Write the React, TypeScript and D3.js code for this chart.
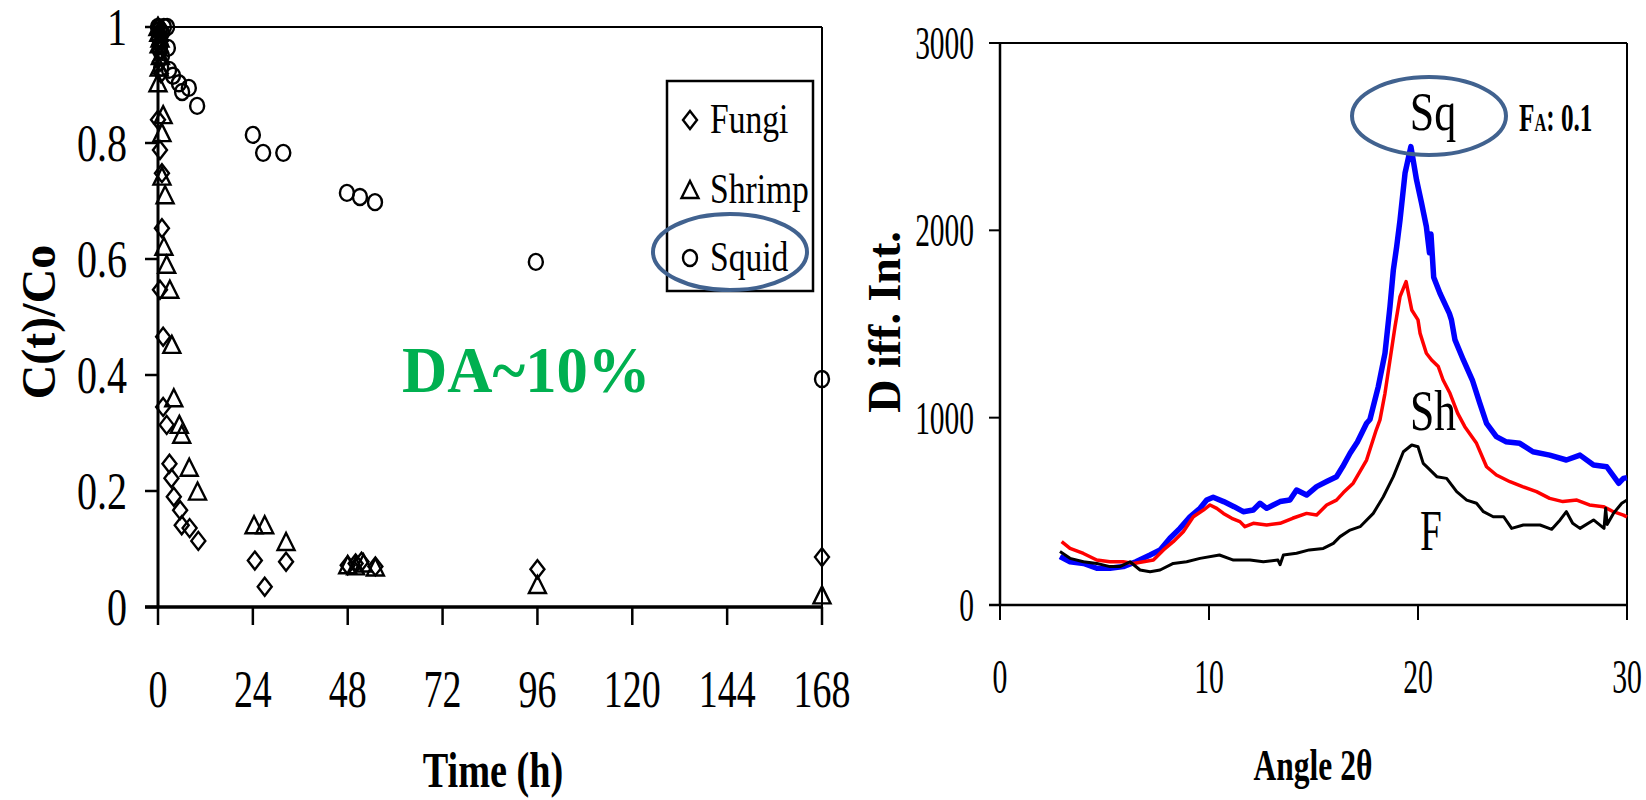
import * as d3 from "d3";

// ---- left panel: C(t)/Co vs time ----
const timeTicks = [0, 24, 48, 72, 96, 120, 144, 168];
const ratioTicks = [0, 0.2, 0.4, 0.6, 0.8, 1];

const fungiTime = [0, 0.2, 0.25, 0.4, 0.5, 0.5, 0.75, 0, 0.5, 1, 1, 0.5, 1.3, 1.3, 2.2, 2.9, 3.4, 4, 5.6, 6, 8, 10.2, 24.5, 27, 32.4, 48, 50, 51.5, 55, 96, 168];
const fungiRatio = [1.0, 0.99, 0.98, 0.97, 0.96, 0.94, 0.92, 0.84, 0.788, 0.748, 0.653, 0.547, 0.466, 0.345, 0.314, 0.247, 0.222, 0.19, 0.167, 0.141, 0.136, 0.114, 0.08, 0.035, 0.078, 0.072, 0.075, 0.078, 0.07, 0.065, 0.086];

const shrimpTime = [0, 0.2, 0.5, 0.3, 0.6, 0.3, 0, 1.3, 1, 1, 1.8, 1.5, 2.2, 3, 3.5, 4, 5.4, 6, 7.9, 10, 24.3, 27, 32.4, 48, 50, 52, 55, 96, 168];
const shrimpRatio = [1.0, 0.99, 0.98, 0.97, 0.95, 0.93, 0.903, 0.848, 0.817, 0.742, 0.71, 0.621, 0.59, 0.547, 0.452, 0.36, 0.314, 0.297, 0.24, 0.199, 0.141, 0.141, 0.112, 0.072, 0.07, 0.075, 0.068, 0.038, 0.02];

const squidTime = [0, 0.3, 0.5, 0.6, 1, 1.5, 2.3, 0.5, 1, 2.5, 0.8, 2.8, 3.8, 5.3, 6.1, 7.8, 9.9, 24, 26.6, 31.7, 47.8, 51.1, 54.9, 95.6, 168];
const squidRatio = [1.0, 0.98, 0.995, 0.97, 0.99, 1.0, 1.0, 0.96, 0.95, 0.964, 0.93, 0.926, 0.916, 0.903, 0.888, 0.895, 0.864, 0.814, 0.783, 0.783, 0.714, 0.707, 0.698, 0.595, 0.393];

const legendNames = ["Fungi", "Shrimp", "Squid"];

// ---- right panel: XRD patterns ----
const angleTicks = [0, 10, 20, 30];
const intensityTicks = [0, 1000, 2000, 3000];

const sqAngle = [2.87, 3.35, 4.0, 4.63, 5.26, 5.9, 6.5, 7.18, 7.66, 8.13, 8.61, 9.09, 9.57, 9.89, 10.2, 10.7, 11.2, 11.64, 12.12, 12.44, 12.76, 13.4, 13.87, 14.19, 14.67, 15.15, 15.63, 16.1, 16.4, 16.75, 17.1, 17.54, 17.7, 18.1, 18.42, 18.66, 18.82, 18.98, 19.14, 19.38, 19.66, 19.93, 20.17, 20.4, 20.55, 20.62, 20.75, 21.05, 21.5, 21.6, 21.77, 22.17, 22.6, 22.96, 23.28, 23.75, 24.2, 24.87, 25.5, 26.3, 27.1, 27.75, 28.4, 29.03, 29.6, 29.83, 30];
const sqIntensity = [258, 231, 222, 196, 196, 205, 231, 267, 294, 356, 409, 471, 516, 560, 575, 552, 525, 498, 507, 543, 516, 552, 560, 614, 587, 632, 659, 685, 739, 810, 870, 970, 990, 1166, 1344, 1593, 1788, 1913, 2055, 2305, 2447, 2269, 2145, 2020, 1880, 1980, 1750, 1664, 1557, 1522, 1415, 1308, 1201, 1076, 970, 899, 872, 863, 818, 800, 774, 800, 747, 738, 650, 676, 680];

const shAngle = [2.95, 3.35, 3.99, 4.63, 5.26, 5.9, 6.38, 6.86, 7.34, 7.82, 8.29, 8.77, 9.25, 9.73, 10.05, 10.37, 10.69, 11.09, 11.48, 11.72, 12.12, 12.76, 13.4, 14.0, 14.67, 15.15, 15.63, 16.1, 16.43, 16.9, 17.54, 18.0, 18.18, 18.42, 18.66, 18.9, 19.14, 19.43, 19.7, 20.0, 20.1, 20.4, 20.65, 20.97, 21.2, 21.53, 21.9, 22.24, 22.8, 23.28, 23.75, 24.4, 25.0, 25.67, 26.3, 26.93, 27.6, 28.2, 28.87, 29.35, 29.83, 30];
const shIntensity = [338, 302, 275, 240, 231, 231, 222, 231, 240, 294, 338, 391, 471, 507, 534, 516, 489, 463, 445, 418, 436, 427, 436, 463, 489, 480, 534, 560, 600, 650, 774, 934, 988, 1130, 1308, 1486, 1646, 1726, 1575, 1522, 1450, 1344, 1308, 1273, 1201, 1130, 1023, 952, 863, 738, 694, 658, 632, 605, 569, 552, 560, 534, 525, 498, 480, 470];

const fAngle = [2.87, 3.35, 3.99, 4.63, 5.26, 5.74, 6.22, 6.7, 7.18, 7.66, 8.29, 8.93, 9.57, 10.5, 11.17, 11.96, 12.6, 13.3, 13.4, 13.56, 14.19, 14.8, 15.47, 15.95, 16.27, 16.75, 17.23, 17.86, 18.34, 18.82, 19.3, 19.7, 20.0, 20.25, 20.5, 20.9, 21.37, 21.85, 22.33, 22.8, 23.13, 23.6, 24.1, 24.48, 25.04, 25.84, 26.4, 26.8, 27.1, 27.4, 27.75, 28.4, 28.9, 28.98, 29.05, 29.35, 29.75, 30];
const fIntensity = [285, 249, 231, 222, 205, 205, 231, 187, 178, 187, 222, 231, 249, 267, 240, 240, 231, 240, 215, 267, 276, 294, 302, 329, 365, 400, 418, 489, 578, 685, 818, 854, 845, 756, 729, 685, 676, 605, 560, 543, 498, 471, 471, 409, 427, 427, 404, 454, 498, 436, 409, 454, 409, 516, 430, 489, 543, 560];

const FONT = '"Liberation Serif", "Times New Roman", serif';

type CTextProps = {
  x: number; y: number; size: number; sx?: number; anchor?: string;
  bold?: boolean; fill?: string; children: any;
};

// condensed text: the original lettering is narrow and tall
const CText = ({ x, y, size, sx = 1, anchor = "start", bold = false, fill = "#000", children }: CTextProps) => (
  <text
    transform={`translate(${x},${y}) scale(${sx},1)`}
    textAnchor={anchor}
    fontSize={size}
    fontWeight={bold ? "bold" : "normal"}
    fontFamily={FONT}
    fill={fill}
  >
    {children}
  </text>
);

const diamond = (cx: number, cy: number) => `M${cx},${cy - 9}L${cx + 7},${cy}L${cx},${cy + 9}L${cx - 7},${cy}Z`;
const triangle = (cx: number, cy: number) => `M${cx},${cy - 9}L${cx + 8.5},${cy + 8}L${cx - 8.5},${cy + 8}Z`;

const Marker = ({ kind, cx, cy }: { kind: number; cx: number; cy: number }) => {
  if (kind === 0) return <path d={diamond(cx, cy)} fill="none" stroke="#000" strokeWidth={2.4} />;
  if (kind === 1) return <path d={triangle(cx, cy)} fill="none" stroke="#000" strokeWidth={2.4} />;
  return <ellipse cx={cx} cy={cy} rx={7} ry={8} fill="none" stroke="#000" strokeWidth={2.4} />;
};

const LeftChart = () => {
  const x = d3.scaleLinear().domain([0, 168]).range([158, 822]);
  const y = d3.scaleLinear().domain([0, 1]).range([607, 27]);
  const series = [
    { t: fungiTime, v: fungiRatio },
    { t: shrimpTime, v: shrimpRatio },
    { t: squidTime, v: squidRatio },
  ];
  return (
    <g>
      {/* frame */}
      <line x1={x(0)} x2={x(168)} y1={y(1)} y2={y(1)} stroke="#000" strokeWidth={2} />
      <line x1={x(168)} x2={x(168)} y1={y(1)} y2={y(0)} stroke="#000" strokeWidth={2} />
      <line x1={x(0)} x2={x(0)} y1={y(1)} y2={y(0)} stroke="#000" strokeWidth={3} />
      <line x1={x(0) - 13} x2={x(168)} y1={y(0)} y2={y(0)} stroke="#000" strokeWidth={3.5} />
      {ratioTicks.map(t => (
        <g key={"yt" + t}>
          <line x1={x(0) - 13} x2={x(0)} y1={y(t)} y2={y(t)} stroke="#000" strokeWidth={2.5} />
          <CText x={127} y={y(t) + 18} size={52} sx={0.77} anchor="end">{String(t)}</CText>
        </g>
      ))}
      {timeTicks.map(t => (
        <g key={"xt" + t}>
          <line x1={x(t)} x2={x(t)} y1={y(0)} y2={y(0) + 18} stroke="#000" strokeWidth={2.5} />
          <CText x={x(t)} y={707} size={52} sx={0.73} anchor="middle">{String(t)}</CText>
        </g>
      ))}
      {/* points */}
      {series.map((s, k) =>
        s.t.map((t, i) => <Marker key={k + "-" + i} kind={k} cx={x(t)} cy={y(s.v[i])} />)
      )}
      {/* legend */}
      <rect x={667} y={81} width={146} height={210} fill="#fff" stroke="#000" strokeWidth={2.5} />
      {legendNames.map((name, i) => {
        const cy = [120, 190, 258][i];
        return (
          <g key={name}>
            <Marker kind={i} cx={690} cy={cy} />
            <CText x={710} y={cy + 13} size={42} sx={0.8}>{name}</CText>
          </g>
        );
      })}
      <ellipse cx={730} cy={252} rx={77} ry={38} fill="none" stroke="#41628f" strokeWidth={4} />
      <CText x={402} y={392} size={66} sx={0.95} bold fill="#00b050">DA~10%</CText>
      <CText x={493} y={787} size={51} sx={0.75} bold anchor="middle">Time (h)</CText>
      <text transform="translate(55,322) rotate(-90)" textAnchor="middle" fontSize={48}
        fontWeight="bold" fontFamily={FONT}>C(t)/Co</text>
    </g>
  );
};

const RightChart = () => {
  const x = d3.scaleLinear().domain([0, 30]).range([1000, 1627]);
  const y = d3.scaleLinear().domain([0, 3000]).range([605, 43]);
  const path = (a: number[], v: number[]) =>
    d3.line<number>().x(i => x(a[i])).y(i => y(v[i]))(d3.range(a.length)) || "";
  return (
    <g>
      <line x1={x(0) - 11} x2={x(30)} y1={y(3000)} y2={y(3000)} stroke="#000" strokeWidth={2} />
      <line x1={x(30)} x2={x(30)} y1={y(3000)} y2={y(0)} stroke="#000" strokeWidth={2} />
      <line x1={x(0)} x2={x(0)} y1={y(3000)} y2={y(0)} stroke="#000" strokeWidth={2.5} />
      <line x1={x(0) - 11} x2={x(30)} y1={y(0)} y2={y(0)} stroke="#000" strokeWidth={2.5} />
      {intensityTicks.map(t => (
        <g key={"iy" + t}>
          <line x1={x(0) - 11} x2={x(0)} y1={y(t)} y2={y(t)} stroke="#000" strokeWidth={2} />
          <CText x={974} y={y(t) + 16} size={46} sx={0.64} anchor="end">{String(t)}</CText>
        </g>
      ))}
      {angleTicks.map(t => (
        <g key={"ax" + t}>
          <line x1={x(t)} x2={x(t)} y1={y(0)} y2={y(0) + 15} stroke="#000" strokeWidth={2} />
          <CText x={x(t)} y={693} size={48} sx={0.62} anchor="middle">{String(t)}</CText>
        </g>
      ))}
      <path d={path(sqAngle, sqIntensity)} fill="none" stroke="#0000ff" strokeWidth={5.5} strokeLinejoin="round" />
      <path d={path(shAngle, shIntensity)} fill="none" stroke="#ff0000" strokeWidth={3.5} strokeLinejoin="round" />
      <path d={path(fAngle, fIntensity)} fill="none" stroke="#000" strokeWidth={3} strokeLinejoin="round" />
      <ellipse cx={1429} cy={116} rx={77} ry={39} fill="none" stroke="#41628f" strokeWidth={4} />
      <CText x={1433} y={130} size={55} sx={0.8} anchor="middle">Sq</CText>
      <CText x={1519} y={131} size={40} sx={0.63} bold>
        F<tspan fontSize={26}>A</tspan>: 0.1
      </CText>
      <CText x={1433} y={430} size={56} sx={0.78} anchor="middle">Sh</CText>
      <CText x={1431} y={550} size={56} sx={0.7} anchor="middle">F</CText>
      <CText x={1313} y={780} size={45} sx={0.7} bold anchor="middle">Angle 2θ</CText>
      <text transform="translate(900,322) rotate(-90)" textAnchor="middle" fontSize={46}
        fontWeight="bold" fontFamily={FONT}>D iff. Int.</text>
    </g>
  );
};

export default function App() {
  return (
    <svg width={1646} height={800} style={{ position: "absolute", left: 0, top: 0, background: "#fff" }}>
      <rect width={1646} height={800} fill="#fff" />
      <LeftChart />
      <RightChart />
    </svg>
  );
}
